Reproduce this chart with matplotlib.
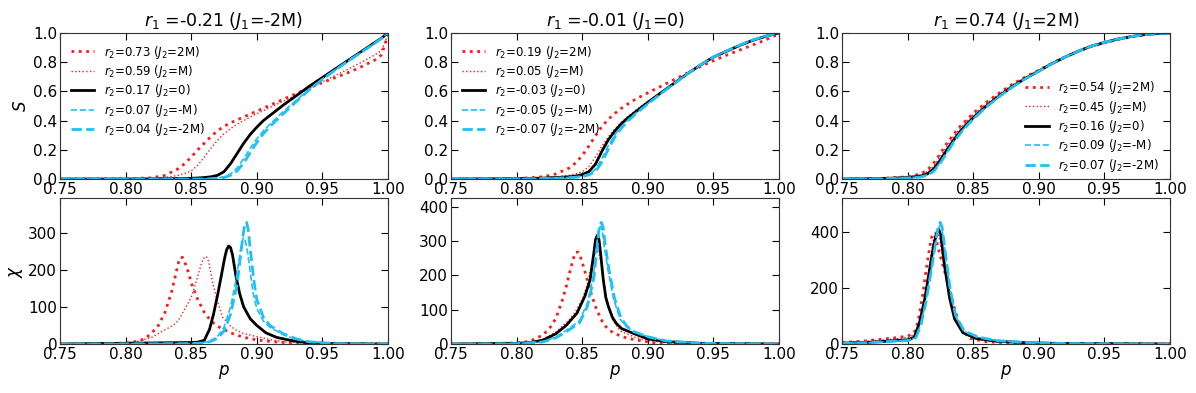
import matplotlib
matplotlib.use("Agg")
import matplotlib.pyplot as plt
import numpy as np

# ---- titles / labels ----
titles = ["$r_1$ =-0.21 ($J_1$=-2M)", "$r_1$ =-0.01 ($J_1$=0)", "$r_1$ =0.74 ($J_1$=2M)"]
legend_labels = [
    ["$r_2$=0.73 ($J_2$=2M)", "$r_2$=0.59 ($J_2$=M)", "$r_2$=0.17 ($J_2$=0)",
     "$r_2$=0.07 ($J_2$=-M)", "$r_2$=0.04 ($J_2$=-2M)"],
    ["$r_2$=0.19 ($J_2$=2M)", "$r_2$=0.05 ($J_2$=M)", "$r_2$=-0.03 ($J_2$=0)",
     "$r_2$=-0.05 ($J_2$=-M)", "$r_2$=-0.07 ($J_2$=-2M)"],
    ["$r_2$=0.54 ($J_2$=2M)", "$r_2$=0.45 ($J_2$=M)", "$r_2$=0.16 ($J_2$=0)",
     "$r_2$=0.09 ($J_2$=-M)", "$r_2$=0.07 ($J_2$=-2M)"],
]

# ---- panel 1 : S(p) ----
p1_s = [0.75, 0.80, 0.82, 0.83, 0.84, 0.845, 0.85, 0.855, 0.86, 0.865, 0.87, 0.875, 0.88, 0.885,
        0.89, 0.895, 0.90, 0.905, 0.91, 0.92, 0.93, 0.94, 0.95, 0.96, 0.97, 0.98, 0.99, 0.995, 1.0]
s1_2m = [0.0, 0.002, 0.008, 0.025, 0.07, 0.105, 0.15, 0.2, 0.245, 0.29, 0.33, 0.36, 0.385, 0.405,
         0.425, 0.445, 0.465, 0.485, 0.505, 0.545, 0.585, 0.625, 0.66, 0.695, 0.73, 0.77, 0.815, 0.85, 0.985]
s1_m = [0.0, 0.001, 0.004, 0.01, 0.025, 0.038, 0.055, 0.095, 0.15, 0.21, 0.265, 0.31, 0.345, 0.375,
        0.40, 0.425, 0.447, 0.468, 0.49, 0.532, 0.575, 0.62, 0.665, 0.71, 0.755, 0.80, 0.85, 0.88, 0.99]
s1_0 = [0.0, 0.0, 0.001, 0.002, 0.003, 0.004, 0.005, 0.007, 0.01, 0.015, 0.025, 0.05, 0.105, 0.175,
        0.245, 0.305, 0.355, 0.40, 0.435, 0.505, 0.57, 0.635, 0.695, 0.755, 0.815, 0.875, 0.935, 0.965, 1.0]
s1_mm = [0.0, 0.0, 0.0, 0.0, 0.0, 0.0, 0.0, 0.0, 0.0, 0.003, 0.007, 0.015, 0.035, 0.075,
         0.14, 0.21, 0.275, 0.33, 0.375, 0.46, 0.54, 0.615, 0.685, 0.75, 0.81, 0.87, 0.93, 0.963, 1.0]
s1_m2m = [0.0, 0.0, 0.0, 0.0, 0.0, 0.0, 0.0, 0.0, 0.0, 0.002, 0.005, 0.01, 0.025, 0.055,
          0.11, 0.18, 0.25, 0.31, 0.36, 0.445, 0.53, 0.61, 0.682, 0.748, 0.81, 0.87, 0.93, 0.963, 1.0]

# ---- panel 1 : chi(p) ----
p1_c_2m = [0.75, 0.80, 0.81, 0.815, 0.82, 0.825, 0.83, 0.835, 0.838, 0.8405, 0.842, 0.8435, 0.845, 0.848,
           0.85, 0.855, 0.86, 0.865, 0.87, 0.88, 0.89, 0.90, 0.91, 0.92, 0.95, 1.0]
c1_2m = [0, 2, 8, 15, 30, 50, 85, 140, 185, 222, 234, 233, 222, 192, 165, 120, 85, 62, 48, 30, 18, 11, 7, 4, 1, 0]
p1_c_m = [0.75, 0.80, 0.81, 0.82, 0.826, 0.83, 0.836, 0.84, 0.846, 0.85, 0.854, 0.857, 0.859, 0.8607,
          0.862, 0.8635, 0.866, 0.87, 0.874, 0.88, 0.884, 0.89, 0.90, 0.91, 0.92, 0.95, 1.0]
c1_m = [0, 3, 8, 18, 30, 38, 50, 62, 100, 125, 170, 208, 228, 236, 234, 220, 170, 115, 72, 48, 38, 28, 20, 12, 6, 1, 0]
p1_c_0 = [0.75, 0.80, 0.85, 0.855, 0.86, 0.864, 0.867, 0.87, 0.873, 0.8755, 0.877, 0.8785, 0.88, 0.8815,
          0.884, 0.887, 0.89, 0.895, 0.90, 0.907, 0.915, 0.92, 0.93, 0.94, 0.96, 1.0]
c1_0 = [0, 2, 4, 5, 10, 40, 80, 130, 185, 232, 254, 264, 260, 240, 185, 135, 100, 68, 50, 30, 18, 14, 7, 3, 1, 0]
p1_c_mm = [0.75, 0.85, 0.86, 0.865, 0.87, 0.875, 0.88, 0.884, 0.887, 0.8885, 0.8898, 0.891, 0.8925, 0.8945,
           0.897, 0.90, 0.905, 0.91, 0.92, 0.93, 0.94, 0.96, 1.0]
c1_mm = [0, 1, 4, 10, 20, 45, 100, 170, 238, 272, 287, 282, 258, 208, 140, 95, 62, 45, 25, 13, 6, 1, 0]
p1_c_m2m = [0.75, 0.85, 0.86, 0.865, 0.87, 0.875, 0.88, 0.885, 0.888, 0.8898, 0.891, 0.8922, 0.8935, 0.895,
            0.898, 0.90, 0.905, 0.91, 0.92, 0.93, 0.94, 0.96, 1.0]
c1_m2m = [0, 1, 3, 7, 15, 35, 80, 160, 250, 300, 326, 328, 308, 255, 165, 120, 72, 50, 28, 14, 6, 1, 0]

# ---- panel 2 : S(p) ----
p2_s = [0.75, 0.80, 0.82, 0.83, 0.84, 0.845, 0.85, 0.855, 0.86, 0.865, 0.87, 0.875, 0.88, 0.885,
        0.89, 0.895, 0.90, 0.91, 0.92, 0.93, 0.94, 0.95, 0.96, 0.97, 0.98, 0.99, 1.0]
s2_2m = [0.0, 0.003, 0.015, 0.035, 0.075, 0.11, 0.16, 0.225, 0.295, 0.36, 0.41, 0.45, 0.485, 0.515,
         0.543, 0.567, 0.59, 0.635, 0.68, 0.725, 0.77, 0.81, 0.848, 0.883, 0.918, 0.953, 0.995]
s2_m = [0.0, 0.002, 0.008, 0.015, 0.025, 0.035, 0.05, 0.085, 0.15, 0.225, 0.29, 0.345, 0.39, 0.43,
        0.465, 0.50, 0.53, 0.595, 0.66, 0.725, 0.78, 0.83, 0.87, 0.91, 0.945, 0.975, 1.0]
s2_0 = [0.0, 0.002, 0.006, 0.01, 0.015, 0.02, 0.03, 0.05, 0.10, 0.19, 0.27, 0.33, 0.38, 0.42,
        0.455, 0.49, 0.525, 0.59, 0.655, 0.72, 0.78, 0.835, 0.875, 0.915, 0.95, 0.978, 1.0]
s2_mm = [0.0, 0.001, 0.004, 0.007, 0.01, 0.014, 0.02, 0.033, 0.065, 0.14, 0.23, 0.305, 0.36, 0.405,
         0.445, 0.48, 0.517, 0.585, 0.652, 0.72, 0.78, 0.835, 0.877, 0.917, 0.952, 0.979, 1.0]
s2_m2m = [0.0, 0.001, 0.003, 0.006, 0.009, 0.012, 0.017, 0.028, 0.05, 0.115, 0.205, 0.29, 0.35, 0.398,
          0.44, 0.477, 0.514, 0.585, 0.652, 0.72, 0.78, 0.835, 0.877, 0.917, 0.952, 0.979, 1.0]

# ---- panel 2 : chi(p) ----
p2_c_2m = [0.75, 0.80, 0.81, 0.82, 0.825, 0.83, 0.835, 0.838, 0.841, 0.8435, 0.8452, 0.847, 0.8488, 0.851,
           0.854, 0.857, 0.861, 0.866, 0.87, 0.875, 0.884, 0.894, 0.904, 0.92, 1.0]
c2_2m = [0, 3, 8, 26, 45, 75, 130, 170, 217, 252, 268, 268, 252, 226, 185, 145, 100, 60, 42, 30, 17, 10, 4, 1, 0]
p2_c_m = [0.75, 0.80, 0.81, 0.82, 0.83, 0.84, 0.845, 0.85, 0.854, 0.857, 0.8595, 0.861, 0.8625, 0.8645,
          0.867, 0.87, 0.873, 0.877, 0.88, 0.89, 0.90, 0.92, 1.0]
c2_m = [0, 2, 5, 14, 35, 70, 95, 130, 175, 230, 265, 274, 268, 235, 170, 110, 72, 48, 36, 20, 10, 2, 0]
p2_c_0 = [0.75, 0.80, 0.81, 0.82, 0.83, 0.838, 0.846, 0.852, 0.856, 0.8585, 0.8602, 0.8615, 0.8628, 0.864,
          0.866, 0.868, 0.87, 0.873, 0.876, 0.88, 0.889, 0.90, 0.914, 0.94, 1.0]
c2_0 = [0, 2, 4, 11, 30, 55, 90, 139, 187, 255, 305, 317, 305, 265, 190, 135, 109, 78, 60, 45, 31, 15, 7, 2, 0]
p2_c_mm = [0.75, 0.80, 0.82, 0.83, 0.838, 0.848, 0.854, 0.8585, 0.861, 0.8627, 0.864, 0.8655, 0.867, 0.87,
           0.874, 0.879, 0.884, 0.889, 0.895, 0.901, 0.914, 0.94, 1.0]
c2_mm = [0, 1, 7, 20, 40, 68, 120, 200, 290, 338, 343, 325, 280, 210, 130, 72, 50, 36, 28, 20, 9, 2, 0]
p2_c_m2m = [0.75, 0.80, 0.82, 0.83, 0.838, 0.848, 0.854, 0.859, 0.8615, 0.8632, 0.8645, 0.866, 0.8675, 0.8705,
            0.8745, 0.8795, 0.884, 0.889, 0.895, 0.901, 0.914, 0.94, 1.0]
c2_m2m = [0, 1, 6, 18, 36, 62, 110, 195, 290, 345, 355, 340, 290, 215, 135, 76, 52, 37, 28, 20, 9, 2, 0]

# ---- panel 3 : S(p) ----
p3_s = [0.75, 0.78, 0.80, 0.81, 0.815, 0.82, 0.825, 0.83, 0.835, 0.84, 0.845, 0.85, 0.86, 0.87,
        0.88, 0.89, 0.90, 0.91, 0.92, 0.93, 0.94, 0.95, 0.96, 0.97, 0.98, 0.99, 1.0]
s3_2m = [0.0, 0.004, 0.015, 0.035, 0.06, 0.11, 0.175, 0.245, 0.305, 0.36, 0.405, 0.45, 0.525, 0.59,
         0.65, 0.70, 0.745, 0.792, 0.835, 0.875, 0.908, 0.933, 0.955, 0.973, 0.987, 0.996, 1.0]
s3_m = [0.0, 0.004, 0.013, 0.028, 0.05, 0.09, 0.155, 0.225, 0.29, 0.345, 0.395, 0.44, 0.515, 0.585,
        0.645, 0.697, 0.744, 0.792, 0.836, 0.876, 0.91, 0.935, 0.957, 0.975, 0.988, 0.996, 1.0]
s3_0 = [0.0, 0.003, 0.01, 0.02, 0.035, 0.07, 0.13, 0.20, 0.265, 0.325, 0.375, 0.42, 0.50, 0.57,
        0.635, 0.69, 0.74, 0.79, 0.835, 0.875, 0.91, 0.935, 0.958, 0.975, 0.988, 0.996, 1.0]
s3_mm = [0.0, 0.002, 0.008, 0.016, 0.028, 0.058, 0.115, 0.185, 0.255, 0.315, 0.367, 0.413, 0.495, 0.567,
         0.632, 0.688, 0.739, 0.789, 0.835, 0.875, 0.91, 0.935, 0.958, 0.975, 0.988, 0.996, 1.0]
s3_m2m = [0.0, 0.002, 0.007, 0.014, 0.025, 0.053, 0.11, 0.18, 0.25, 0.31, 0.363, 0.41, 0.493, 0.565,
          0.63, 0.687, 0.738, 0.789, 0.835, 0.875, 0.91, 0.935, 0.958, 0.975, 0.988, 0.996, 1.0]

# ---- panel 3 : chi(p) ----
p3_c_2m = [0.75, 0.77, 0.79, 0.80, 0.805, 0.808, 0.811, 0.814, 0.817, 0.8185, 0.8198, 0.8212, 0.824, 0.827,
           0.8296, 0.835, 0.840, 0.8477, 0.86, 0.88, 1.0]
c3_2m = [5, 12, 22, 28, 40, 80, 160, 260, 350, 385, 394, 385, 330, 280, 237, 141, 57, 20, 8, 3, 0]
p3_c_m = [0.75, 0.77, 0.79, 0.80, 0.806, 0.81, 0.814, 0.817, 0.82, 0.8212, 0.8225, 0.8245, 0.827, 0.83,
          0.834, 0.838, 0.844, 0.852, 0.865, 0.89, 1.0]
c3_m = [4, 10, 18, 24, 35, 85, 195, 290, 380, 400, 403, 375, 300, 230, 150, 80, 35, 18, 8, 3, 0]
p3_c_0 = [0.75, 0.77, 0.79, 0.80, 0.805, 0.809, 0.813, 0.8168, 0.8198, 0.8222, 0.8237, 0.8252, 0.8283, 0.832,
          0.8358, 0.8422, 0.8523, 0.8675, 0.893, 0.918, 1.0]
c3_0 = [3, 6, 12, 15, 24, 75, 159, 267, 352, 398, 410, 392, 275, 165, 90, 40, 20, 10, 4, 2, 0]
p3_c_mm = [0.75, 0.77, 0.79, 0.80, 0.806, 0.81, 0.814, 0.818, 0.821, 0.8233, 0.8248, 0.8263, 0.829, 0.8325,
           0.8365, 0.843, 0.8535, 0.868, 0.893, 0.918, 1.0]
c3_mm = [2, 5, 10, 13, 22, 70, 155, 265, 350, 410, 425, 410, 310, 190, 100, 45, 24, 12, 5, 2, 0]
p3_c_m2m = p3_c_mm
c3_m2m = [2, 5, 10, 12, 20, 65, 150, 262, 352, 420, 435, 418, 318, 195, 104, 47, 25, 12, 5, 2, 0]

S_data = [
    [(p1_s, s1_2m), (p1_s, s1_m), (p1_s, s1_0), (p1_s, s1_mm), (p1_s, s1_m2m)],
    [(p2_s, s2_2m), (p2_s, s2_m), (p2_s, s2_0), (p2_s, s2_mm), (p2_s, s2_m2m)],
    [(p3_s, s3_2m), (p3_s, s3_m), (p3_s, s3_0), (p3_s, s3_mm), (p3_s, s3_m2m)],
]
chi_data = [
    [(p1_c_2m, c1_2m), (p1_c_m, c1_m), (p1_c_0, c1_0), (p1_c_mm, c1_mm), (p1_c_m2m, c1_m2m)],
    [(p2_c_2m, c2_2m), (p2_c_m, c2_m), (p2_c_0, c2_0), (p2_c_mm, c2_mm), (p2_c_m2m, c2_m2m)],
    [(p3_c_2m, c3_2m), (p3_c_m, c3_m), (p3_c_0, c3_0), (p3_c_mm, c3_mm), (p3_c_m2m, c3_m2m)],
]
chi_ticks = [[0, 100, 200, 300], [0, 100, 200, 300, 400], [0, 200, 400]]

styles = [
    dict(color="#ff1a1a", ls=":", lw=2.0),
    dict(color="#ff1a1a", ls=":", lw=1.0),
    dict(color="black", ls="-", lw=2.0),
    dict(color="#1ec0f5", ls="--", lw=1.2),
    dict(color="#1ec0f5", ls="--", lw=2.0),
]


def style_axes(ax):
    ax.set_xlim(0.75, 1.0)
    ax.set_xticks([0.75, 0.80, 0.85, 0.90, 0.95, 1.00])
    ax.set_xticklabels(["0.75", "0.80", "0.85", "0.90", "0.95", "1.00"])
    ax.tick_params(direction="in", top=True, right=True, length=5, labelsize=11, pad=2)
    for sp in ax.spines.values():
        sp.set_color("#333333")


fig = plt.figure(figsize=(11.96, 3.93), dpi=100)
lefts = [60 / 1196, 451 / 1196, 842 / 1196]
w = 328 / 1196
h = 146 / 393
leg_kw = dict(frameon=False, fontsize=8.5, labelspacing=0.2, handlelength=2.0, handletextpad=0.8)

for i in range(3):
    ax = fig.add_axes([lefts[i], 1 - 179 / 393, w, h])
    for (px, sy), st, lab in zip(S_data[i], styles, legend_labels[i]):
        ax.plot(px, sy, label=lab, **st)
    style_axes(ax)
    ax.set_ylim(0, 1.0)
    ax.set_yticks([0, 0.2, 0.4, 0.6, 0.8, 1.0])
    ax.set_yticklabels(["0.0", "0.2", "0.4", "0.6", "0.8", "1.0"])
    ax.set_title(titles[i], fontsize=12.5, pad=5)
    if i == 0:
        ax.set_ylabel("$S$", fontsize=12, labelpad=2)
    if i < 2:
        ax.legend(loc="upper left", **leg_kw)
    else:
        ax.legend(loc="center right", bbox_to_anchor=(1.0, 0.36), **leg_kw)

    bx = fig.add_axes([lefts[i], 1 - 344 / 393, w, h])
    for (px, cy), st in zip(chi_data[i], styles):
        bx.plot(px, cy, **st)
    style_axes(bx)
    top = 1.2 * max(max(c) for _, c in chi_data[i])
    bx.set_ylim(0, top)
    bx.set_yticks(chi_ticks[i])
    bx.set_xlabel("$p$", fontsize=12, labelpad=1)
    if i == 0:
        bx.set_ylabel("$\\chi$", fontsize=12, labelpad=2)

fig.savefig("out.png", dpi=100)
